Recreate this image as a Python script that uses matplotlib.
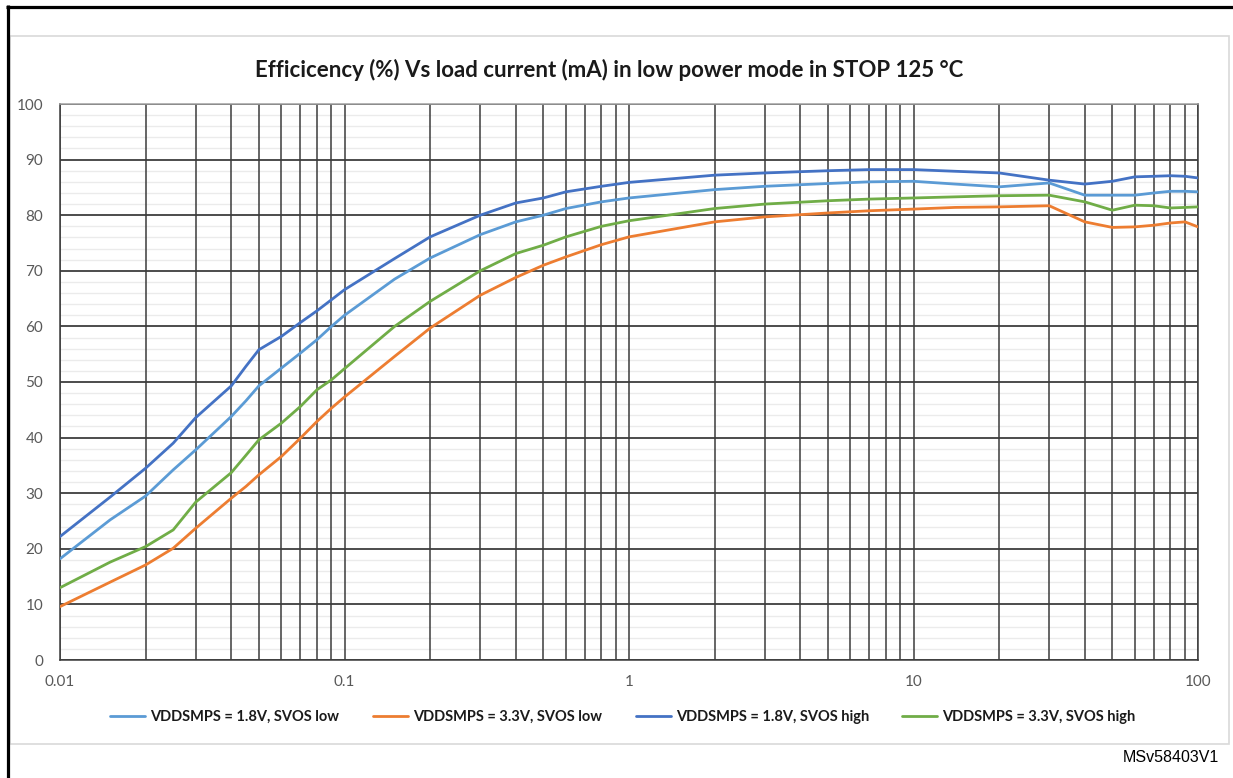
import numpy as np
import matplotlib
matplotlib.use("Agg")
import matplotlib.pyplot as plt
from matplotlib.lines import Line2D
from matplotlib.patches import Rectangle
from matplotlib.ticker import FixedLocator, NullFormatter, MultipleLocator

plt.rcParams['font.family'] = ['Lato', 'DejaVu Sans']

# load current (mA)
load_ma = [0.01, 0.015, 0.02, 0.025, 0.03, 0.04, 0.045, 0.05, 0.06, 0.07, 0.08,
           0.09, 0.1, 0.15, 0.2, 0.3, 0.4, 0.5, 0.6, 0.8, 1, 2, 3, 5, 7, 10,
           14, 20, 30, 40, 50, 60, 70, 80, 90, 100]

# efficiency (%)
eff_18_low = [18.2, 25.2, 29.5, 34.2, 37.8, 43.8, 46.6, 49.3, 52.5, 55.2, 57.6,
              60.0, 62.0, 68.5, 72.3, 76.5, 78.8, 80.0, 81.2, 82.4, 83.1, 84.6, 85.2, 85.7, 86.0, 86.1,
              85.6, 85.1, 85.8, 83.6, 83.6, 83.6, 84.0, 84.3, 84.3, 84.2]
eff_33_low = [9.6, 14.0, 17.1, 20.1, 23.7, 29.1, 31.2, 33.3, 36.6, 39.9, 42.9,
              45.3, 47.3, 54.6, 59.7, 65.6, 68.8, 71.0, 72.5, 74.7, 76.1, 78.8, 79.7, 80.4, 80.8, 81.1,
              81.4, 81.5, 81.7, 78.8, 77.8, 77.9, 78.2, 78.6, 78.8, 77.9]
eff_18_high = [22.2, 29.3, 34.5, 39.0, 43.6, 49.3, 52.8, 55.8, 58.2, 60.7, 62.8,
               64.8, 66.6, 72.2, 76.1, 80.0, 82.2, 83.1, 84.2, 85.2, 85.9, 87.2, 87.6, 88.0, 88.2, 88.2,
               87.9, 87.6, 86.3, 85.6, 86.1, 86.9, 87.0, 87.1, 87.0, 86.7]
eff_33_high = [13.0, 17.6, 20.4, 23.4, 28.4, 33.7, 36.8, 39.6, 42.6, 45.6, 48.6,
               50.4, 52.4, 60.0, 64.5, 70.0, 73.1, 74.6, 76.1, 78.0, 79.0, 81.2, 82.0, 82.6, 82.9, 83.1,
               83.3, 83.5, 83.6, 82.4, 80.9, 81.8, 81.7, 81.3, 81.4, 81.5]

series = [
    ("VDDSMPS = 1.8V, SVOS low", eff_18_low, "#5B9BD5"),
    ("VDDSMPS = 3.3V, SVOS low", eff_33_low, "#ED7D31"),
    ("VDDSMPS = 1.8V, SVOS high", eff_18_high, "#4472C4"),
    ("VDDSMPS = 3.3V, SVOS high", eff_33_high, "#70AD47"),
]

W, H = 1233, 778
fig = plt.figure(figsize=(W / 100, H / 100), dpi=100)

# frame of the page and chart area
fig.add_artist(Line2D([6 / W, 1.01], [1 - 6.5 / H, 1 - 6.5 / H], color='black', lw=2.3,
                      solid_capstyle='butt', transform=fig.transFigure))
fig.add_artist(Line2D([7.5 / W, 7.5 / W], [-0.01, 1 - 5 / H], color='black', lw=2.3,
                      solid_capstyle='butt', transform=fig.transFigure))
fig.add_artist(Rectangle((10 / W, 1 - 744 / H), (1229 - 10) / W, (744 - 36) / H,
                         fill=False, ec='#d9d9d9', lw=1.2, transform=fig.transFigure))

ax = fig.add_axes([60 / W, 1 - 660 / H, (1198 - 60) / W, (660 - 104) / H])

for name, vals, col in series:
    ax.plot(load_ma, vals, color=col, lw=2.0, label=name, solid_capstyle='round',
            solid_joinstyle='round', zorder=3)

ax.set_xscale('log')
ax.set_xlim(0.01, 100)
ax.set_ylim(0, 100)

ax.xaxis.set_major_locator(FixedLocator([0.01, 0.1, 1, 10, 100]))
ax.set_xticklabels(['0.01', '0.1', '1', '10', '100'])
minors = [m * 10.0 ** e for e in range(-2, 2) for m in range(2, 10)]
ax.xaxis.set_minor_locator(FixedLocator(minors))
ax.xaxis.set_minor_formatter(NullFormatter())
ax.yaxis.set_major_locator(MultipleLocator(10))
ax.yaxis.set_minor_locator(MultipleLocator(2))

ax.grid(True, axis='x', which='both', color='#3c3c3c', lw=1.1, linestyle='-')
ax.grid(True, axis='y', which='major', color='#2e2e2e', lw=1.2, linestyle='-')
ax.grid(True, axis='y', which='minor', color='#ebebeb', lw=1.0, linestyle='-')
ax.set_axisbelow(True)
# light horizontal lines must sit under the dark vertical ones
ax.yaxis.set_zorder(0.3)
ax.xaxis.set_zorder(0.5)

ax.tick_params(which='both', length=0, colors='#595959', labelsize=11)
ax.tick_params(axis='y', pad=12)
ax.tick_params(axis='x', pad=11)
for s in ['left', 'bottom', 'right']:
    ax.spines[s].set_color('#3c3c3c')
    ax.spines[s].set_linewidth(1.1)
ax.spines['top'].set_color('#a0a0a0')
ax.spines['top'].set_linewidth(1.1)

fig.text(609 / W, 1 - 70 / H, "Efficicency (%) Vs load current (mA) in low power mode in STOP 125 °C",
         ha='center', va='center', fontsize=16, fontweight='bold', color='#1a1a1a')

fig.legend(loc='center', bbox_to_anchor=(623 / W, 1 - 717 / H), ncol=4, frameon=False,
           handlelength=2.4, handletextpad=0.35, columnspacing=2.3,
           prop={'weight': 'bold', 'size': 10.5})
for t in fig.legends[0].get_texts():
    t.set_color('#1a1a1a')

fig.text(1219 / W, 1 - 757 / H, "MSv58403V1", ha='right', va='center', fontsize=11.5,
         family='Liberation Sans', color='black')

fig.savefig('out.png', dpi=100)
